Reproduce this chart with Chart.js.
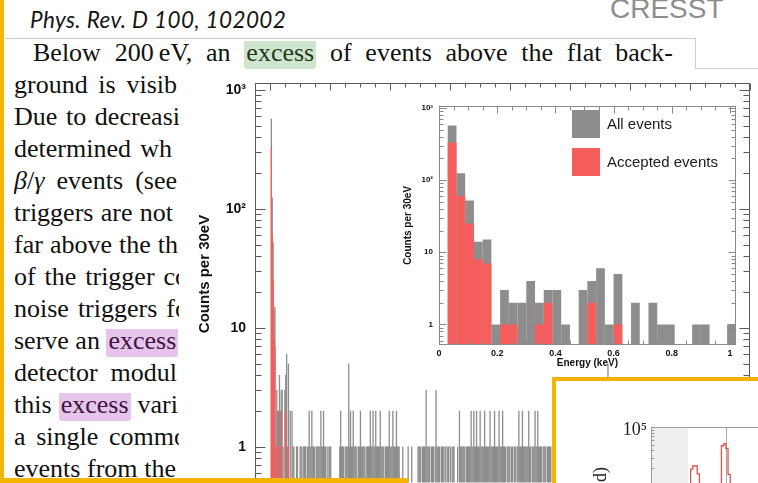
<!DOCTYPE html>
<html lang="en">
<head>
<meta charset="utf-8">
<title>CRESST – low-energy excess</title>
<script src="https://cdn.jsdelivr.net/npm/chart.js@4.4.1/dist/chart.umd.min.js"></script>
<style>
  html, body { margin: 0; padding: 0; background: #fff; }
  body { position: relative; width: 758px; height: 483px; overflow: hidden; }
  .abs { position: absolute; }
  .gold { background: #f6b300; }
  .rule { background: #cdcdcd; }
  #journal { left: 30px; top: 6px; font: italic 22.5px Lato, "Open Sans", sans-serif; letter-spacing: 0.4px; line-height: 28px; color: #151515; white-space: nowrap; }
  #brand { left: 610px; top: -5px; font: 28px "Liberation Sans", Arial, sans-serif; line-height: 28px; color: #8d8d8d; white-space: nowrap; }
  .para { font: 26px "Liberation Serif", "Times New Roman", serif; line-height: 32px; color: #111; }
  .ln { height: 32px; white-space: nowrap; text-align: justify; text-align-last: justify; }
  .hl-g { background: linear-gradient(transparent 3px, #cfe5cd 3px); color: #1f3b1f; border-radius: 3px; padding: 0 2px 2px; }
  .hl-p { background: linear-gradient(transparent 3px, #e7c4ec 3px); color: #3d1640; border-radius: 3px; padding: 0 2px 2px; }
  #lead { left: 33px; top: 37px; width: 640px; }
  #column { left: 14px; top: 69px; width: 165px; height: 416px; overflow: hidden; }
  #sidePanel { left: 552px; top: 377px; width: 230px; height: 130px; border-left: 4px solid #f6b300; border-top: 4px solid #f6b300; background: #fff; }
  canvas { position: absolute; display: block; }
</style>
</head>
<body>
  <div class="abs gold" style="left:0;top:0;width:4px;height:483px;"></div>
  <div id="journal" class="abs">Phys. Rev. D 100, 102002</div>
  <div id="brand" class="abs">CRESST</div>

  <div class="abs rule" style="left:5px;top:38px;width:691px;height:1px;"></div>
  <div class="abs rule" style="left:695px;top:38px;width:1px;height:31px;"></div>
  <div class="abs rule" style="left:695px;top:68px;width:63px;height:1px;"></div>

  <div id="lead" class="abs para ln">Below 200&#8201;eV, an <span class="hl-g">excess</span> of events above the flat back-</div>

  <div id="column" class="abs para">
    <div class="ln" style="width:163px">ground is visib</div>
    <div class="ln" style="width:166px">Due to decreasi</div>
    <div class="ln" style="width:158px">determined wh</div>
    <div class="ln" style="width:163px"><i>β</i>/<i>γ</i> events (see</div>
    <div class="ln" style="width:159px">triggers are not</div>
    <div class="ln" style="width:164px">far above the th</div>
    <div class="ln" style="width:174px">of the trigger co</div>
    <div class="ln" style="width:174px">noise triggers fo</div>
    <div class="ln" style="width:163px">serve an <span class="hl-p">excess</span></div>
    <div class="ln" style="width:163px">detector modul</div>
    <div class="ln" style="width:164px">this <span class="hl-p">excess</span> vari</div>
    <div class="ln" style="width:173px">a single commo</div>
    <div class="ln" style="width:162px">events from the</div>
  </div>

  <canvas id="mainSpectrum" width="578" height="440" style="left:180px;top:60px;"></canvas>
  <canvas id="zoomSpectrum" width="352" height="280" style="left:390px;top:95px;"></canvas>

  <div id="sidePanel" class="abs"></div>
  <canvas id="peakTrace" width="300" height="160" style="left:556px;top:381px;"></canvas>

  <div class="abs gold" style="left:0;top:478px;width:408px;height:5px;"></div>

<script>
// ---- Histogram binning: 30 eV bins, first bin starting at 30 eV ----
const BIN_WIDTH_KEV = 0.03;
const FIRST_BIN_LOW_KEV = 0.03;

// Counts per 30 eV bin, all events (bin 0 = 0.03-0.06 keV)
const allEventCounts = [
  570, 124, 52, 14, 15, 1, 3, 2, 2, 4,
  2, 3, 3, 1, 0, 3, 4, 6, 1, 5,
  0, 2, 0, 2, 1, 1, 0, 0, 1, 1,
  0, 0, 1,
  1, 1, 0, 1, 1, 1, 0, 1, 1, 2,
  1, 1, 2, 1, 1, 1, 0, 1, 1, 1,
  1, 1, 2, 1, 1, 2, 1, 1, 0, 1,
  0, 1, 1, 1, 0, 0, 0, 0, 0, 0,
  0, 0, 0, 1, 2, 1, 1, 1, 0, 1,
  1, 1, 1, 5, 1, 2, 1, 1, 2, 1,
  1, 1, 1, 0, 1, 1, 2, 1, 1, 1,
  1, 1, 0, 1, 1, 1, 1, 2, 1, 1,
  2, 1, 1, 2, 1, 1, 1, 1, 2, 1,
  1, 1, 1, 0, 1, 1, 1, 1, 2, 1,
  1, 1, 2, 1, 1, 1, 2, 1, 1, 1,
  0, 0, 0, 1, 0, 0, 0, 0, 0, 1,
  0, 0, 0, 1, 0, 0, 0, 0, 0, 0,
  1, 1, 1, 1, 0, 1, 1, 1, 1, 3,
  1, 1, 1, 1, 0, 1, 1, 1, 0, 1,
  3, 1, 1, 1, 1, 0, 1, 1, 1, 0,
  1, 1, 0, 1, 1, 0, 1, 0, 1, 1,
  1, 0, 0, 0, 1, 0, 2, 1, 1, 1,
  1, 1, 1, 0, 1, 1, 1, 1, 1, 2,
  1, 1, 2, 1, 1, 2, 1, 1, 1, 2,
  1, 1, 1, 1, 2, 1, 1, 1, 1, 1,
  2, 1, 1, 1, 1, 2, 1, 1, 1, 1,
  2, 1, 1, 1, 2, 1, 1, 1, 0, 1,
  1, 1, 1, 0, 1, 1, 0, 1, 1, 0,
  1, 1, 2, 1, 1, 1, 2, 1, 1, 1,
  1, 1, 1, 2, 1, 1, 0, 1, 1, 1,
  2, 1, 1, 2, 1, 1, 1, 1, 0, 1,
  1, 1, 1, 0, 1, 1, 1, 1, 0, 1,
  0, 1, 1, 0, 1, 0, 0, 1, 1, 0,
  1, 0, 1, 0, 0, 1, 1, 0, 1, 0,
  0, 1, 0, 1, 1, 0, 0, 1, 0, 1,
  1, 0, 0, 1, 0, 1, 0, 0, 1, 1,
  0, 1, 0, 0, 1, 0, 1, 1, 0, 0,
  1, 0, 1, 0, 0, 1, 0, 1, 0, 1,
  1, 5, 1, 0, 0, 1, 0, 0, 1, 0
];

// Counts per 30 eV bin, accepted events
const acceptedEventCounts = [
  330, 60, 25, 8, 7, 0, 1, 1, 0, 0,
  1, 2, 0, 0, 0, 0, 2, 0, 0, 1,
  0, 0, 0, 0, 0, 0, 0, 0, 0, 0,
  0, 0, 0
];

const seriesLabels = ['All events', 'Accepted events'];

// Axis tick labels
const mainYDecades = [1, 10, 100, 1000];
const mainYLabels = ['1', '10', '10²', '10³'];
const zoomYDecades = [1, 10, 100, 1000];
const zoomYLabels = ['1', '10', '10²', '10³'];
const zoomXTicks = [0, 0.2, 0.4, 0.6, 0.8, 1];
const zoomXLabels = ['0', '0.2', '0.4', '0.6', '0.8', '1'];
const traceYDecades = [100000];
const traceYLabels = ['10⁵'];

// Lower-right panel: stepped trace (left bin edges and counts)
const traceEdges  = [0,    18,    19,    21,    22,   32,    33,    34,    35,    36,   88.6];
const traceCounts = [3000, 19000, 21500, 15800, 4000, 47700, 52000, 43000, 15400, 4500, 4500];
const traceShadeEnd = 16.8;
const traceMarker = 34.1;

// ---- styling ----
const GRAY = '#8d8d8d';
const RED = '#f65d5d';
Chart.defaults.font.family = "'Liberation Sans', Arial, Helvetica, sans-serif";
Chart.defaults.color = '#111';

const binCenter = i => FIRST_BIN_LOW_KEV + BIN_WIDTH_KEV * (i + 0.5);
function binPoints(counts, n) {
  return Array.from({ length: n }, (_, i) => {
    const c = counts[i] || 0;
    return { x: binCenter(i), y: c > 0 ? c : null };
  });
}
function histDatasets(n, inflate) {
  const common = { grouped: false, barPercentage: 1, categoryPercentage: 1, borderWidth: 0, inflateAmount: inflate };
  return [
    Object.assign({ label: seriesLabels[1], data: binPoints(acceptedEventCounts, n), backgroundColor: RED, order: 0 }, common),
    Object.assign({ label: seriesLabels[0], data: binPoints(allEventCounts, n), backgroundColor: GRAY, order: 1 }, common)
  ];
}

// Frame with inward ticks (log minor ticks on y, regular ticks on x)
const frameTicks = {
  id: 'frameTicks',
  afterDatasetsDraw(chart, args, o) {
    const { ctx, chartArea: a } = chart;
    const xs = chart.scales.x, ys = chart.scales.y;
    const L = Math.round(a.left) + 0.5, R = Math.round(a.right) - 0.5;
    const T = Math.round(a.top) + 0.5, B = Math.round(a.bottom) - 0.5;
    const has = s => o.sides.indexOf(s) >= 0;
    const seg = (x1, y1, x2, y2) => { ctx.beginPath(); ctx.moveTo(x1, y1); ctx.lineTo(x2, y2); ctx.stroke(); };
    ctx.save();
    ctx.strokeStyle = o.color;
    ctx.lineWidth = 1;
    if (has('left')) seg(L, a.top, L, a.bottom);
    if (has('right')) seg(R, a.top, R, a.bottom);
    if (has('top')) seg(a.left, T, a.right, T);
    if (has('bottom')) seg(a.left, B, a.right, B);
    const d0 = Math.floor(Math.log10(ys.min)), d1 = Math.ceil(Math.log10(ys.max));
    for (let d = d0; d <= d1; d++) {
      for (let m = 1; m <= 9; m++) {
        const v = m * Math.pow(10, d);
        if (v < ys.min || v > ys.max * 1.0000001) continue;
        const py = Math.round(ys.getPixelForValue(v)) + 0.5;
        const len = m === 1 ? o.yMajor : o.yMinor;
        if (has('left')) seg(L, py, L + len, py);
        if (has('right')) seg(R, py, R - len, py);
      }
    }
    if (o.xStep) {
      const n = Math.round((o.xTo - o.xFrom) / o.xStep);
      for (let k = 0; k <= n; k++) {
        const v = o.xFrom + k * o.xStep;
        const px = Math.round(xs.getPixelForValue(v)) + 0.5;
        const len = k % o.xMajorEvery === 0 ? o.xMajor : o.xMinor;
        if (has('top')) seg(px, T, px, T + len);
        if (has('bottom')) seg(px, B, px, B - len);
      }
    }
    ctx.restore();
  }
};

// Rotated side caption
const sideText = {
  id: 'sideText',
  afterDraw(chart, args, o) {
    const ctx = chart.ctx;
    ctx.save();
    ctx.translate(o.x, o.y);
    ctx.rotate(-Math.PI / 2);
    ctx.font = o.font;
    ctx.fillStyle = o.color;
    ctx.textAlign = o.align;
    ctx.textBaseline = 'middle';
    ctx.fillText(o.text, 0, 0);
    ctx.restore();
  }
};

// Square-swatch legend placed inside the plot
const boxLegend = {
  id: 'boxLegend',
  afterDraw(chart, args, o) {
    const ctx = chart.ctx;
    ctx.save();
    ctx.font = o.font;
    ctx.textAlign = 'left';
    ctx.textBaseline = 'middle';
    o.order.forEach((di, k) => {
      const ds = chart.data.datasets[di];
      const y = o.y + k * o.step;
      ctx.fillStyle = ds.backgroundColor;
      ctx.fillRect(o.x, y, o.box, o.box);
      ctx.fillStyle = o.color;
      ctx.fillText(ds.label, o.x + o.box + o.gap, y + o.box / 2 + 1);
    });
    ctx.restore();
  }
};

// Shaded band and marker line behind the trace
const bands = {
  id: 'bands',
  beforeDatasetsDraw(chart, args, o) {
    const { ctx, chartArea: a } = chart;
    const xs = chart.scales.x;
    ctx.save();
    ctx.fillStyle = o.shade;
    const xe = xs.getPixelForValue(o.shadeTo);
    ctx.fillRect(a.left, a.top, xe - a.left, a.bottom - a.top);
    const xm = Math.round(xs.getPixelForValue(o.marker)) + 0.5;
    ctx.strokeStyle = o.markerColor;
    ctx.lineWidth = 1;
    ctx.beginPath(); ctx.moveTo(xm, a.top); ctx.lineTo(xm, a.bottom); ctx.stroke();
    ctx.restore();
  }
};

function fixedTicks(values) {
  return scale => { scale.ticks = values.map(v => ({ value: v, major: true })); };
}

// ---- full-range spectrum ----
new Chart(document.getElementById('mainSpectrum'), {
  type: 'bar',
  data: { datasets: histDatasets(allEventCounts.length, 0.2) },
  options: {
    responsive: false, animation: false, events: [],
    layout: { padding: { left: 0, top: 23, right: 8, bottom: 10.5 } },
    scales: {
      x: { type: 'linear', min: -0.5, max: 16, offset: false, display: false },
      y: {
        type: 'logarithmic', min: 0.5, max: 1143,
        afterFit: s => { s.width = 75; },
        afterBuildTicks: fixedTicks(mainYDecades),
        ticks: { callback: (v, i) => mainYLabels[i], padding: 9, font: { size: 14, weight: 'bold' }, color: '#111', autoSkip: false },
        grid: { display: false, drawTicks: false },
        border: { display: false }
      }
    },
    plugins: {
      legend: { display: false }, tooltip: { enabled: false },
      frameTicks: { sides: ['left', 'top', 'right'], color: '#5a5a5a', yMajor: 10, yMinor: 6,
                    xFrom: 0, xTo: 16, xStep: 0.5, xMajorEvery: 4, xMajor: 7, xMinor: 4 },
      sideText: { text: 'Counts per 30eV', x: 25, y: 214, font: 'bold 15px "Liberation Sans", Arial, sans-serif', color: '#111', align: 'center' }
    }
  },
  plugins: [frameTicks, sideText]
});

// ---- 0-1 keV zoom ----
new Chart(document.getElementById('zoomSpectrum'), {
  type: 'bar',
  data: { datasets: histDatasets(acceptedEventCounts.length, 0) },
  options: {
    responsive: false, animation: false, events: [],
    layout: { padding: { left: 0, top: 5, right: 6.2, bottom: 3 } },
    scales: {
      x: {
        type: 'linear', min: 0, max: 1.02, offset: false,
        afterFit: s => { s.height = 27; },
        afterBuildTicks: fixedTicks(zoomXTicks),
        ticks: { callback: (v, i) => zoomXLabels[i], padding: 3, font: { size: 9, weight: 'bold' }, maxRotation: 0, autoSkip: false },
        grid: { display: false, drawTicks: false },
        border: { display: false },
        title: { display: true, text: 'Energy (keV)', font: { size: 10, weight: 'bold' }, padding: { top: 0, bottom: 3 } }
      },
      y: {
        type: 'logarithmic', min: 0.52, max: 1065,
        afterFit: s => { s.width = 49; },
        afterBuildTicks: fixedTicks(zoomYDecades),
        ticks: { callback: (v, i) => zoomYLabels[i], padding: 6, font: { size: 8, weight: 'bold' }, autoSkip: false },
        grid: { display: false, drawTicks: false },
        border: { display: false },
        title: { display: true, text: 'Counts per 30eV', font: { size: 10, weight: 'bold' }, padding: { top: 12, bottom: 0 } }
      }
    },
    plugins: {
      legend: { display: false }, tooltip: { enabled: false },
      frameTicks: { sides: ['left', 'top', 'right', 'bottom'], color: '#8a8a8a', yMajor: 7, yMinor: 4,
                    xFrom: 0, xTo: 1, xStep: 0.05, xMajorEvery: 4, xMajor: 7, xMinor: 4 },
      boxLegend: { order: [1, 0], x: 182, y: 15, step: 38, box: 28, gap: 7, font: '15px "Liberation Sans", Arial, sans-serif', color: '#1a1a1a' }
    }
  },
  plugins: [frameTicks, boxLegend]
});

// ---- lower-right panel ----
new Chart(document.getElementById('peakTrace'), {
  type: 'line',
  data: {
    datasets: [{
      data: traceEdges.map((x, i) => ({ x, y: traceCounts[i] })),
      stepped: true, borderColor: '#e0504e', borderWidth: 1.3, pointRadius: 0, fill: false
    }]
  },
  options: {
    responsive: false, animation: false, events: [],
    layout: { padding: { left: 0, top: 46, right: 10, bottom: 12 } },
    scales: {
      x: { type: 'linear', min: 0, max: 88.6, display: false },
      y: {
        type: 'logarithmic', min: 2000, max: 100000,
        afterFit: s => { s.width = 95; },
        afterBuildTicks: fixedTicks(traceYDecades),
        ticks: { callback: (v, i) => traceYLabels[i], padding: 4, labelOffset: 3,
                 font: { family: "'Liberation Serif', 'Times New Roman', serif", size: 18 }, color: '#222', autoSkip: false },
        grid: { display: false, drawTicks: false },
        border: { display: false }
      }
    },
    plugins: {
      legend: { display: false }, tooltip: { enabled: false },
      bands: { shade: '#efefef', shadeTo: traceShadeEnd, marker: traceMarker, markerColor: '#a8a8a8' },
      frameTicks: { sides: ['left', 'top'], color: '#9a9a9a', yMajor: 6, yMinor: 3 },
      sideText: { text: 'Counts/(keV kg d)', x: 45, y: 86, font: '18px "Liberation Serif", "Times New Roman", serif', color: '#222', align: 'right' }
    }
  },
  plugins: [bands, frameTicks, sideText]
});
</script>
</body>
</html>
